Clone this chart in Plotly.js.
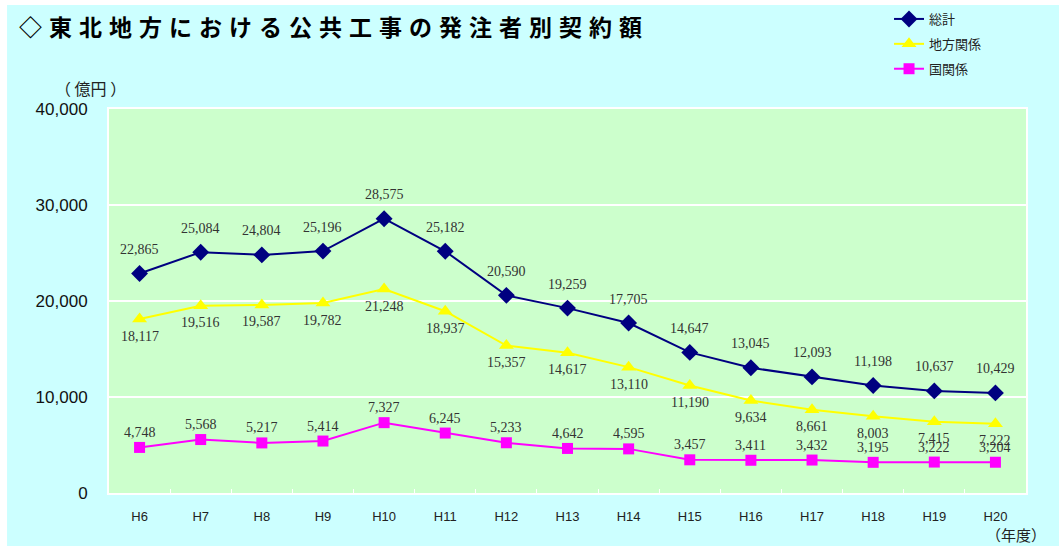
<!DOCTYPE html>
<html>
<head>
<meta charset="utf-8">
<script src="https://cdn.plot.ly/plotly-3.0.1.min.js"></script>
<style>
html,body{margin:0;padding:0;background:#fff;}
#chart{width:1059px;height:546px;}
.gtitle{letter-spacing:7px;}
</style>
</head>
<body>
<div id="chart"></div>
<script>
const years = ['H6','H7','H8','H9','H10','H11','H12','H13','H14','H15','H16','H17','H18','H19','H20'];
const total = [22865,25084,24804,25196,28575,25182,20590,19259,17705,14647,13045,12093,11198,10637,10429];
const localGov = [18117,19516,19587,19782,21248,18937,15357,14617,13110,11190,9634,8661,8003,7415,7222];
const national = [4748,5568,5217,5414,7327,6245,5233,4642,4595,3457,3411,3432,3195,3222,3204];
const seriesNames = ['総計','地方関係','国関係'];
const yTicks = [0,10000,20000,30000,40000];
const yTickText = ['0','10,000','20,000','30,000','40,000'];

const fmt = v => v.toLocaleString('en-US');

const traces = [
  {x: years, y: total, name: seriesNames[0], type: 'scatter', mode: 'lines+markers',
   line: {color: '#000080', width: 2}, marker: {symbol: 'diamond', size: 13, color: '#000080'},
   legendgroup: 'a'},
  {x: years, y: localGov, name: seriesNames[1], type: 'scatter', mode: 'lines+markers',
   line: {color: '#FFFF00', width: 2}, marker: {symbol: 'triangle-up', size: 13, color: '#FFFF00'},
   legendgroup: 'b'},
  {x: years, y: national, name: seriesNames[2], type: 'scatter', mode: 'lines+markers',
   line: {color: '#FF00FF', width: 2}, marker: {symbol: 'square', size: 11, color: '#FF00FF'},
   legendgroup: 'c'}
];

const labelFont = {family: '"Liberation Serif", "Times New Roman", serif', size: 14, color: '#333333'};
const annotations = [];
years.forEach((yr, i) => {
  annotations.push({x: yr, y: total[i], text: fmt(total[i]), showarrow: false, yshift: 24, font: labelFont});
  annotations.push({x: yr, y: localGov[i], text: fmt(localGov[i]), showarrow: false, yshift: -17, font: labelFont});
  annotations.push({x: yr, y: national[i], text: fmt(national[i]), showarrow: false, yshift: 15, font: labelFont});
});
annotations.push({xref: 'paper', yref: 'paper', x: -0.0207, y: 1.0547, xanchor: 'center', yanchor: 'middle',
  text: '（ 億円 ）', showarrow: false, font: {family: '"Noto Sans CJK JP", sans-serif', size: 16, color: '#222'}});
annotations.push({xref: 'paper', yref: 'paper', x: 1.024, y: -0.109, xanchor: 'right', yanchor: 'middle',
  text: '（年度）', showarrow: false, font: {family: '"Noto Sans CJK JP", sans-serif', size: 15, color: '#222'}});

const layout = {
  width: 1059, height: 546,
  margin: {l: 109, r: 33, t: 109, b: 53, autoexpand: false},
  paper_bgcolor: '#CCFFFF',
  plot_bgcolor: '#CCFFCC',
  title: {text: '◇東北地方における公共工事の発注者別契約額', xref: 'container', yref: 'container',
    x: 0.018, xanchor: 'left', y: 0.948, yanchor: 'middle',
    font: {family: '"Noto Sans CJK JP", sans-serif', size: 23, weight: 700, color: '#000'}},
  xaxis: {type: 'category', range: [-0.5, 14.5], showgrid: false, zeroline: false,
    showline: true, linecolor: '#FFFFFF', linewidth: 2, mirror: true,
    ticks: 'inside', tickson: 'boundaries', tickcolor: '#FFFFFF', ticklen: 4,
    ticklabelstandoff: 10,
    tickfont: {family: 'Arial, "Liberation Sans", sans-serif', size: 13, color: '#222'}},
  yaxis: {range: [0, 40000], tickvals: yTicks, ticktext: yTickText, showgrid: true,
    gridcolor: '#FFFFFF', gridwidth: 2, zeroline: false,
    showline: true, linecolor: '#FFFFFF', linewidth: 2, mirror: true,
    ticks: '', ticklabelstandoff: 16,
    tickfont: {family: 'Arial, "Liberation Sans", sans-serif', size: 17, color: '#111'}},
  legend: {xref: 'container', yref: 'container', x: 0.8395, y: 0.9927, xanchor: 'left', yanchor: 'top',
    bgcolor: 'rgba(0,0,0,0)', traceorder: 'grouped', tracegroupgap: 5,
    font: {family: '"Noto Sans CJK JP", sans-serif', size: 13, color: '#222'}},
  showlegend: true,
  annotations: annotations,
  shapes: [
    {type: 'rect', xref: 'paper', yref: 'paper', x0: -0.2, x1: 1.1, y0: 1.2708, y1: 1.35, fillcolor: '#FFFFFF', line: {width: 0}, layer: 'below'},
    {type: 'rect', xref: 'paper', yref: 'paper', x0: -0.2, x1: -0.1112, y0: -0.2, y1: 1.35, fillcolor: '#FFFFFF', line: {width: 0}, layer: 'below'}
  ]
};

Plotly.newPlot('chart', traces, layout, {displayModeBar: false, staticPlot: true});
</script>
</body>
</html>
